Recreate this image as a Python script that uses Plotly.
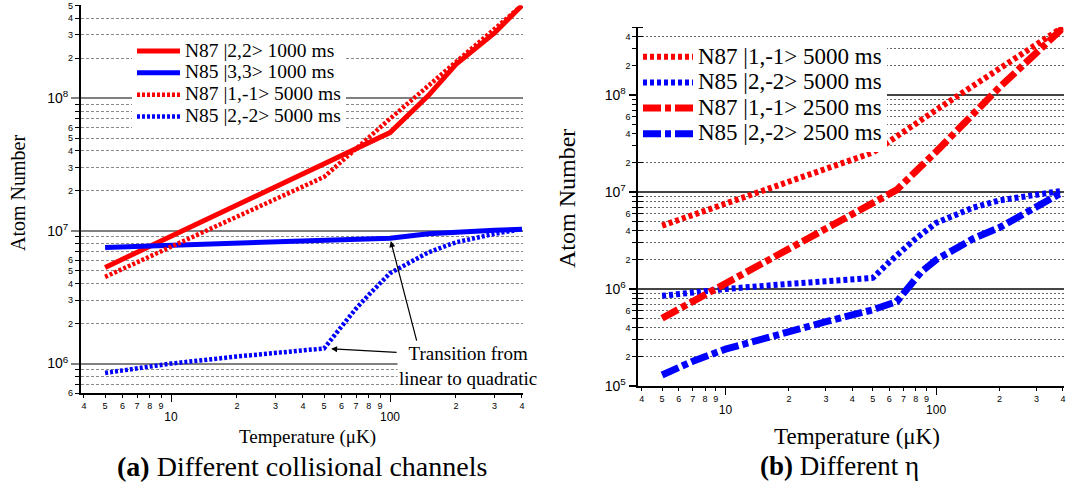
import numpy as np
import plotly.graph_objects as go

# ---------------- data ----------------
# Left panel (a): different collisional channels
t_n87_22_1000 = [5, 100, 150, 200, 300, 400]
n_n87_22_1000 = [5.3e6, 5.5e7, 1.05e8, 1.8e8, 3.1e8, 5.0e8]

t_n85_33_1000 = [5, 100, 150, 200, 300, 400]
n_n85_33_1000 = [7.5e6, 8.8e6, 9.5e6, 9.8e6, 1.01e7, 1.03e7]

t_n87_1m1_5000 = [5, 50, 100, 200, 300, 400]
n_n87_1m1_5000 = [4.5e6, 2.55e7, 7.0e7, 1.85e8, 3.3e8, 5.0e8]

t_n85_2m2_5000 = [5, 10, 20, 30, 50, 60, 70, 80, 100, 150, 200, 300, 400]
n_n85_2m2_5000 = [8.5e5, 1.0e6, 1.13e6, 1.21e6, 1.3e6, 1.9e6, 2.6e6, 3.3e6,
                  4.8e6, 6.9e6, 8.2e6, 9.5e6, 1.03e7]

# Right panel (b): different eta
t_n87_1m1_2500 = [5, 65, 100, 200, 400]
n_n87_1m1_2500 = [5.0e5, 1.05e7, 2.6e7, 1.2e8, 4.9e8]

t_n85_2m2_2500 = [5, 7, 10, 15, 20, 30, 40, 50, 65, 75, 85, 100, 150, 200, 300, 400]
n_n85_2m2_2500 = [1.3e5, 1.8e5, 2.4e5, 3.1e5, 3.7e5, 4.6e5, 5.4e5, 6.1e5, 7.4e5,
                  1.1e6, 1.5e6, 2.0e6, 3.3e6, 4.3e6, 7.0e6, 1.0e7]

# legend names
names_left = ["N87 |2,2> 1000 ms", "N85 |3,3> 1000 ms",
              "N87 |1,-1> 5000 ms", "N85 |2,-2> 5000 ms"]
names_right = ["N87 |1,-1> 5000 ms", "N85 |2,-2> 5000 ms",
               "N87 |1,-1> 2500 ms", "N85 |2,-2> 2500 ms"]

# tick labels
x_major = [10, 100]
x_major_text = ["10", "100"]
x_minor = [4, 5, 6, 7, 8, 9, 20, 30, 40, 50, 60, 70, 80, 90, 200, 300, 400]
x_minor_text = ["4", "5", "6", "7", "8", "9", "2", "3", "4", "5", "6", "7", "8", "9",
                "2", "3", "4"]

yL_major = [1e6, 1e7, 1e8]
yL_major_text = ["10<sup>6</sup>", "10<sup>7</sup>", "10<sup>8</sup>"]
yR_major = [1e5, 1e6, 1e7, 1e8]
yR_major_text = ["10<sup>5</sup>", "10<sup>6</sup>", "10<sup>7</sup>", "10<sup>8</sup>"]

yL_labeled = [2, 3, 4, 5, 6]
yR_labeled = [2, 4, 6]

# ---------------- geometry ----------------
W, H = 1068, 492
xL_range = [0.588, 2.608]
yL_range = [np.log10(6e5), np.log10(5e8)]
xR_range = [0.586, 2.605]
yR_range = [5.0, 8.701]

xL_dom = [80.8 / W, 523.2 / W]
yL_dom = [1 - 393 / H, 1 - 5.4 / H]
xR_dom = [638.3 / W, 1063.5 / W]
yR_dom = [1 - 386 / H, 1 - 27 / H]


def minor_vals(lo_exp, hi_val):
    vals = []
    for d in range(lo_exp, 9):
        for m in range(2, 10):
            v = m * 10 ** d
            if v <= hi_val * 1.001:
                vals.append(v)
    return vals


def minor_labels(vals, labeled):
    out = []
    for v in vals:
        m = int(round(v / 10 ** np.floor(np.log10(v) + 1e-9)))
        out.append(str(m) if m in labeled else "")
    return out


yL_minor = [v for v in minor_vals(5, 5e8) if v >= 6e5 * 0.999]
yR_minor = minor_vals(5, 5e8)

RED = "#ff0000"
BLUE = "#0000ff"
SERIF = "Liberation Serif"
SANS = "Liberation Sans"


def big(name, px):
    return "<span style='font-size:%.1fpx'>%s</span>" % (px, name)


fig = go.Figure()

# ---------------- left traces ----------------
fig.add_trace(go.Scatter(x=t_n87_22_1000, y=n_n87_22_1000, mode="lines",
                         name=big(names_left[0], 19.5), line=dict(color=RED, width=5),
                         xaxis="x", yaxis="y", legend="legend"))
fig.add_trace(go.Scatter(x=t_n85_33_1000, y=n_n85_33_1000, mode="lines",
                         name=big(names_left[1], 19.5), line=dict(color=BLUE, width=5),
                         xaxis="x", yaxis="y", legend="legend"))
fig.add_trace(go.Scatter(x=t_n87_1m1_5000, y=n_n87_1m1_5000, mode="lines",
                         name=big(names_left[2], 19.5),
                         line=dict(color=RED, width=4.5, dash="3px,2px"),
                         xaxis="x", yaxis="y", legend="legend"))
fig.add_trace(go.Scatter(x=t_n85_2m2_5000, y=n_n85_2m2_5000, mode="lines",
                         name=big(names_left[3], 19.5),
                         line=dict(color=BLUE, width=4.5, dash="3px,2px"),
                         xaxis="x", yaxis="y", legend="legend"))

# ---------------- right traces ----------------
fig.add_trace(go.Scatter(x=t_n87_1m1_5000, y=n_n87_1m1_5000, mode="lines",
                         name=big(names_right[0], 23),
                         line=dict(color=RED, width=6, dash="4px,3px"),
                         xaxis="x2", yaxis="y2", legend="legend2"))
fig.add_trace(go.Scatter(x=t_n85_2m2_5000, y=n_n85_2m2_5000, mode="lines",
                         name=big(names_right[1], 23),
                         line=dict(color=BLUE, width=6, dash="4px,3px"),
                         xaxis="x2", yaxis="y2", legend="legend2"))
fig.add_trace(go.Scatter(x=t_n87_1m1_2500, y=n_n87_1m1_2500, mode="lines",
                         name=big(names_right[2], 23),
                         line=dict(color=RED, width=7, dash="18px,4px,6px,4px"),
                         xaxis="x2", yaxis="y2", legend="legend2"))
fig.add_trace(go.Scatter(x=t_n85_2m2_2500, y=n_n85_2m2_2500, mode="lines",
                         name=big(names_right[3], 23),
                         line=dict(color=BLUE, width=7, dash="18px,4px,6px,4px"),
                         xaxis="x2", yaxis="y2", legend="legend2"))

# invisible traces to anchor overlay label axes
fig.add_trace(go.Scatter(x=t_n85_33_1000, y=n_n85_33_1000, mode="lines",
                         line=dict(width=0, color="rgba(0,0,0,0)"), showlegend=False,
                         hoverinfo="skip", xaxis="x3", yaxis="y3"))
fig.add_trace(go.Scatter(x=t_n85_2m2_2500, y=n_n85_2m2_2500, mode="lines",
                         line=dict(width=0, color="rgba(0,0,0,0)"), showlegend=False,
                         hoverinfo="skip", xaxis="x4", yaxis="y4"))


def main_x(dom, rng, anchor, font):
    return dict(type="log", domain=dom, range=rng, anchor=anchor, automargin=False,
                tickmode="array", tickvals=x_major, ticktext=x_major_text,
                tickfont=dict(family=SANS, size=font, color="black"),
                ticks="outside", ticklen=7, tickwidth=1.2, tickcolor="black",
                ticklabelstandoff=5,
                showgrid=False, showline=True, linecolor="black", linewidth=1.5,
                zeroline=False, fixedrange=True)


def over_x(over, rng, anchor):
    return dict(type="log", overlaying=over, range=rng, anchor=anchor, side="bottom",
                automargin=False,
                tickmode="array", tickvals=x_minor, ticktext=x_minor_text,
                tickfont=dict(family=SANS, size=9, color="black"),
                ticks="outside", ticklen=4, tickwidth=1, tickcolor="black",
                showgrid=False, showline=False, zeroline=False, fixedrange=True)


fig.update_layout(
    width=W, height=H, margin=dict(l=0, r=0, t=0, b=0, autoexpand=False),
    paper_bgcolor="white", plot_bgcolor="white",
    xaxis=main_x(xL_dom, xL_range, "y", 12),
    xaxis2=main_x(xR_dom, xR_range, "y2", 12),
    xaxis3=over_x("x", xL_range, "y"),
    xaxis4=over_x("x2", xR_range, "y2"),
    yaxis=dict(type="log", domain=yL_dom, range=yL_range, anchor="x", automargin=False,
               tickmode="array", tickvals=yL_major, ticktext=yL_major_text,
               tickfont=dict(family=SANS, size=14, color="black"),
               ticks="outside", ticklen=8, tickwidth=2, tickcolor="#808080",
               showgrid=True, gridcolor="#808080", gridwidth=2,
               minor=dict(tickmode="array", tickvals=yL_minor, showgrid=True,
                          gridcolor="#8a8a8a", gridwidth=1, griddash="3px,2px", ticks=""),
               showline=True, linecolor="black", linewidth=1.5,
               zeroline=False, fixedrange=True),
    yaxis3=dict(type="log", overlaying="y", range=yL_range, anchor="x", side="left",
                automargin=False,
                tickmode="array", tickvals=yL_minor,
                ticktext=minor_labels(yL_minor, yL_labeled),
                tickfont=dict(family=SANS, size=9, color="black"),
                ticks="outside", ticklen=5, tickwidth=1, tickcolor="black",
                showgrid=False, showline=False, zeroline=False, fixedrange=True),
    yaxis2=dict(type="log", domain=yR_dom, range=yR_range, anchor="x2", automargin=False,
                tickmode="array", tickvals=yR_major, ticktext=yR_major_text,
                tickfont=dict(family=SANS, size=14, color="black"),
                ticks="outside", ticklen=8, tickwidth=1.5, tickcolor="black",
                showgrid=True, gridcolor="#444444", gridwidth=1.5,
                minor=dict(tickmode="array", tickvals=yR_minor, showgrid=True,
                           gridcolor="#666666", gridwidth=1, griddash="2px,2px",
                           ticks="inside", ticklen=5, tickwidth=1, tickcolor="black"),
                showline=True, linecolor="black", linewidth=1.5,
                zeroline=False, fixedrange=True),
    yaxis4=dict(type="log", overlaying="y2", range=yR_range, anchor="x2", side="left",
                automargin=False,
                tickmode="array", tickvals=yR_minor,
                ticktext=minor_labels(yR_minor, yR_labeled),
                tickfont=dict(family=SANS, size=9, color="black"),
                ticks="outside", ticklen=5, tickwidth=1, tickcolor="black",
                showgrid=False, showline=False, zeroline=False, fixedrange=True),
    legend=dict(x=132 / W, y=1 - 35 / H, xanchor="left", yanchor="top",
                bgcolor="white", borderwidth=0, tracegroupgap=0,
                font=dict(family=SERIF, size=14.5, color="black"), itemwidth=43),
    legend2=dict(x=638 / W, y=1 - 39 / H, xanchor="left", yanchor="top",
                 bgcolor="white", borderwidth=0, tracegroupgap=0,
                 font=dict(family=SERIF, size=17.4, color="black"), itemwidth=50),
    showlegend=True,
)

ann = []
# axis titles
ann.append(dict(text="Atom Number", x=18 / W, y=1 - 193 / H, xref="paper", yref="paper",
                textangle=-90, showarrow=False, xanchor="center", yanchor="middle",
                font=dict(family=SERIF, size=20, color="black")))
ann.append(dict(text="Atom Number", x=567 / W, y=1 - 199 / H, xref="paper", yref="paper",
                textangle=-90, showarrow=False, xanchor="center", yanchor="middle",
                font=dict(family=SERIF, size=24, color="black")))
ann.append(dict(text="Temperature (\u03bcK)", x=307 / W, y=1 - 437 / H, xref="paper",
                yref="paper", showarrow=False, xanchor="center", yanchor="middle",
                font=dict(family=SERIF, size=19, color="black")))
ann.append(dict(text="Temperature (\u03bcK)", x=857 / W, y=1 - 436 / H, xref="paper",
                yref="paper", showarrow=False, xanchor="center", yanchor="middle",
                font=dict(family=SERIF, size=23, color="black")))
# captions
ann.append(dict(text="<b>(a)</b> Different collisional channels", x=302 / W, y=1 - 466 / H,
                xref="paper", yref="paper", showarrow=False, xanchor="center",
                yanchor="middle", font=dict(family=SERIF, size=28, color="black")))
ann.append(dict(text="<b>(b)</b> Different \u03b7", x=839 / W, y=1 - 466 / H,
                xref="paper", yref="paper", showarrow=False, xanchor="center",
                yanchor="middle", font=dict(family=SERIF, size=27, color="black")))
# transition note
ann.append(dict(text="Transition from<br>linear to quadratic", x=468 / W, y=1 - 366 / H,
                xref="paper", yref="paper", showarrow=False, xanchor="center",
                yanchor="middle", bgcolor="white", align="center",
                font=dict(family=SERIF, size=19, color="black")))
# arrows to the kinks
k1 = t_n85_2m2_5000.index(50)
ann.append(dict(text="", x=np.log10(t_n85_2m2_5000[k1]), y=np.log10(n_n85_2m2_5000[k1]),
                xref="x", yref="y", showarrow=True, axref="pixel", ayref="pixel",
                ax=74, ay=4, arrowhead=2, arrowsize=1, arrowwidth=1.2,
                arrowcolor="black", standoff=7))
k2 = t_n85_33_1000.index(100)
ann.append(dict(text="", x=np.log10(t_n85_33_1000[k2]), y=np.log10(n_n85_33_1000[k2]),
                xref="x", yref="y", showarrow=True, axref="pixel", ayref="pixel",
                ax=27, ay=104, arrowhead=2, arrowsize=1, arrowwidth=1.2,
                arrowcolor="black", standoff=3))
fig.update_layout(annotations=ann)

fig.write_html("out.html", config={"displayModeBar": False},
               post_script="document.body.style.margin='0px';")
